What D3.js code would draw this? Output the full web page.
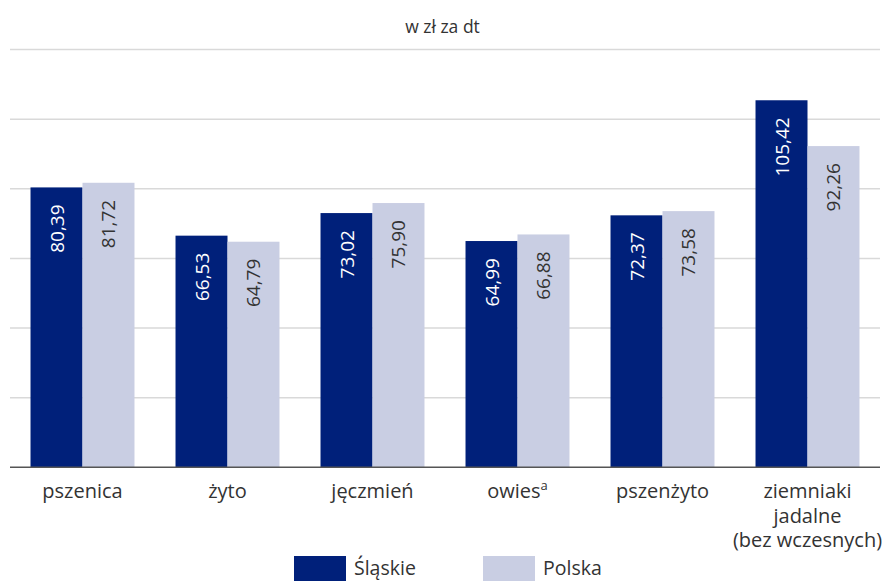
<!DOCTYPE html>
<html>
<head>
<meta charset="utf-8">
<script src="https://cdn.jsdelivr.net/npm/d3@7"></script>
<style>
  body { margin: 0; background: #fff; }
  text { font-family: "Open Sans", "Noto Sans", sans-serif; }
</style>
</head>
<body>
<div id="chart"></div>
<script>
// data
const categories = ["pszenica", "żyto", "jęczmień", "owies", "pszenżyto", "ziemniaki jadalne (bez wczesnych)"];
const seriesNames = ["Śląskie", "Polska"];
const slaskie = [80.39, 66.53, 73.02, 64.99, 72.37, 105.42];
const polska = [81.72, 64.79, 75.90, 66.88, 73.58, 92.26];
const yTicks = [0, 20, 40, 60, 80, 100, 120];

const width = 885, height = 581;
const colors = ["#00207a", "#c9cee3"];

const svg = d3.select("#chart")
  .append("svg")
  .attr("width", width)
  .attr("height", height);

const x0 = d3.scaleBand()
  .domain(categories)
  .range([10, 880])
  .paddingInner(0.283)
  .paddingOuter(0.1415);

const x1 = d3.scaleBand()
  .domain(seriesNames)
  .range([0, x0.bandwidth()]);

const y = d3.scaleLinear()
  .domain([0, 120])
  .range([467.3, 49.5]);

// title
svg.append("text")
  .attr("x", width / 2)
  .attr("y", 33)
  .attr("text-anchor", "middle")
  .attr("font-size", "17.5px")
  .attr("fill", "#333")
  .text("w zł za dt");

// gridlines
svg.append("g")
  .selectAll("line")
  .data(yTicks.slice(1))
  .join("line")
    .attr("x1", 10)
    .attr("x2", 880)
    .attr("y1", d => y(d))
    .attr("y2", d => y(d))
    .attr("stroke", "#d9d9d9")
    .attr("stroke-width", 1.5);

// bars
const rows = categories.map((c, i) => ({ cat: c, vals: [slaskie[i], polska[i]] }));

const groups = svg.append("g")
  .selectAll("g")
  .data(rows)
  .join("g")
    .attr("transform", d => `translate(${x0(d.cat)},0)`);

groups.selectAll("rect")
  .data(d => d.vals.map((v, j) => ({ key: seriesNames[j], v: v, j: j })))
  .join("rect")
    .attr("x", d => x1(d.key))
    .attr("width", x1.bandwidth())
    .attr("y", d => y(d.v))
    .attr("height", d => y(0) - y(d.v))
    .attr("fill", d => colors[d.j]);

// value labels, rotated
groups.selectAll("text.val")
  .data(d => d.vals.map((v, j) => ({ key: seriesNames[j], v: v, j: j })))
  .join("text")
    .attr("class", "val")
    .attr("transform", d => `translate(${x1(d.key) + x1.bandwidth() / 2 + 7},${y(d.v) + 17}) rotate(-90)`)
    .attr("text-anchor", "end")
    .attr("font-size", "19px")
    .attr("fill", d => d.j === 0 ? "#fff" : "#333")
    .text(d => d3.format(".2f")(d.v).replace(".", ","));

// baseline
svg.append("line")
  .attr("x1", 10)
  .attr("x2", 880)
  .attr("y1", y(0))
  .attr("y2", y(0))
  .attr("stroke", "#555")
  .attr("stroke-width", 1.5);

// category labels
const catLines = {
  "ziemniaki jadalne (bez wczesnych)": ["ziemniaki", "jadalne", "(bez wczesnych)"]
};
const xl = svg.append("g")
  .selectAll("text")
  .data(categories)
  .join("text")
    .attr("x", d => x0(d) + x0.bandwidth() / 2)
    .attr("y", 498)
    .attr("text-anchor", "middle")
    .attr("font-size", "20px")
    .attr("fill", "#333");

xl.each(function(d) {
  const t = d3.select(this);
  const lines = catLines[d] || [d];
  lines.forEach((ln, i) => {
    t.append("tspan")
      .attr("x", x0(d) + x0.bandwidth() / 2)
      .attr("dy", i === 0 ? 0 : 24.5)
      .text(ln);
  });
  if (d === "owies") {
    t.append("tspan")
      .attr("dy", -8)
      .attr("font-size", "13px")
      .text("a");
  }
});

// legend
const legend = svg.append("g");
const legX = [294, 483];
seriesNames.forEach((name, i) => {
  legend.append("rect")
    .attr("x", legX[i])
    .attr("y", 556)
    .attr("width", 52)
    .attr("height", 25)
    .attr("fill", colors[i]);
  legend.append("text")
    .attr("x", legX[i] + 60)
    .attr("y", 575)
    .attr("font-size", "19.5px")
    .attr("fill", "#333")
    .text(name);
});
</script>
</body>
</html>
